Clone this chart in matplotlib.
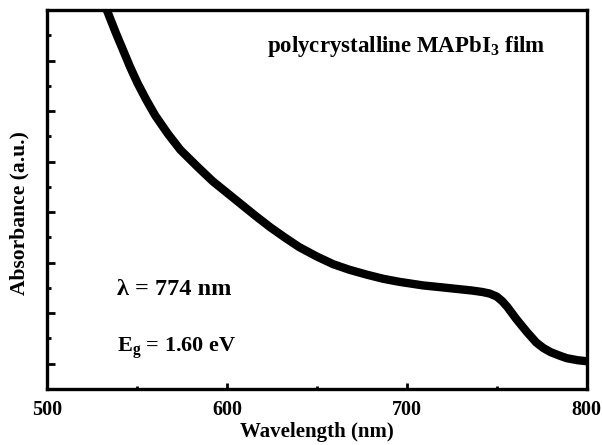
import matplotlib
matplotlib.use("Agg")
import matplotlib.pyplot as plt
from matplotlib.ticker import MultipleLocator, NullFormatter

plt.rcParams['font.family'] = ['Liberation Serif', 'DejaVu Serif']
plt.rcParams['font.weight'] = 'bold'
plt.rcParams['mathtext.fontset'] = 'custom'
plt.rcParams['mathtext.rm'] = 'Liberation Serif:bold'
plt.rcParams['mathtext.it'] = 'Liberation Serif:bold'
plt.rcParams['mathtext.bf'] = 'Liberation Serif:bold'

# Data
wavelength = [526, 533, 538, 542, 546, 550, 555, 560, 567, 574,
              584, 592, 600, 608, 616, 624, 632, 640, 650, 659,
              668, 678, 687, 696, 709, 720, 728, 736, 742, 746,
              750, 753, 756, 761, 767, 772, 776, 780, 785, 789,
              795, 800]
absorbance = [1.070, 1.000, 0.955, 0.921, 0.887, 0.856, 0.822, 0.791, 0.755, 0.723,
              0.688, 0.661, 0.638, 0.615, 0.592, 0.570, 0.550, 0.531, 0.512, 0.497,
              0.486, 0.476, 0.468, 0.462, 0.455, 0.451, 0.448, 0.445, 0.442, 0.439,
              0.433, 0.424, 0.412, 0.388, 0.362, 0.342, 0.331, 0.323, 0.316, 0.311,
              0.307, 0.305]
x_ticks = [500, 600, 700, 800]

fig = plt.figure(figsize=(6.02, 4.45), dpi=100)
ax = fig.add_axes([0.0789, 0.1258, 0.8955, 0.8517])

ax.plot(wavelength, absorbance, color='black', lw=6, solid_joinstyle='round',
        solid_capstyle='butt')

ax.set_xlim(500, 800)
ax.set_ylim(0.25, 1.0)
ax.set_xticks(x_ticks)
ax.set_xticklabels([str(t) for t in x_ticks])
ax.xaxis.set_minor_locator(MultipleLocator(50))
ax.yaxis.set_major_locator(MultipleLocator(0.1))
ax.yaxis.set_minor_locator(MultipleLocator(0.05))
ax.yaxis.set_major_formatter(NullFormatter())

for s in ax.spines.values():
    s.set_linewidth(2.4)

ax.tick_params(axis='x', which='major', direction='in', length=4, width=2,
               labelsize=14.5, pad=8, top=False)
ax.tick_params(axis='x', which='minor', direction='in', length=2.5, width=2, top=False)
ax.tick_params(axis='y', which='major', direction='in', length=5.5, width=2, right=False)
ax.tick_params(axis='y', which='minor', direction='in', length=3, width=2, right=False)

ax.set_xlabel('Wavelength (nm)', fontsize=15, fontweight='bold', labelpad=1.5)
ax.set_ylabel('Absorbance (a.u.)', fontsize=15.5, fontweight='bold')
ax.yaxis.set_label_coords(-0.034, 0.464)

ax.text(0.407, 0.889, 'polycrystalline MAPbI$_3$ film', transform=ax.transAxes,
        fontsize=16.5, fontweight='bold', ha='left', va='baseline')
ax.text(0.129, 0.248, 'λ = 774 nm', transform=ax.transAxes,
        fontsize=17.5, fontweight='bold', ha='left', va='baseline')
ax.text(0.129, 0.0976, 'E$_\\mathregular{g}$ = 1.60 eV', transform=ax.transAxes,
        fontsize=16, fontweight='bold', ha='left', va='baseline')

fig.savefig('out.png', dpi=100)
